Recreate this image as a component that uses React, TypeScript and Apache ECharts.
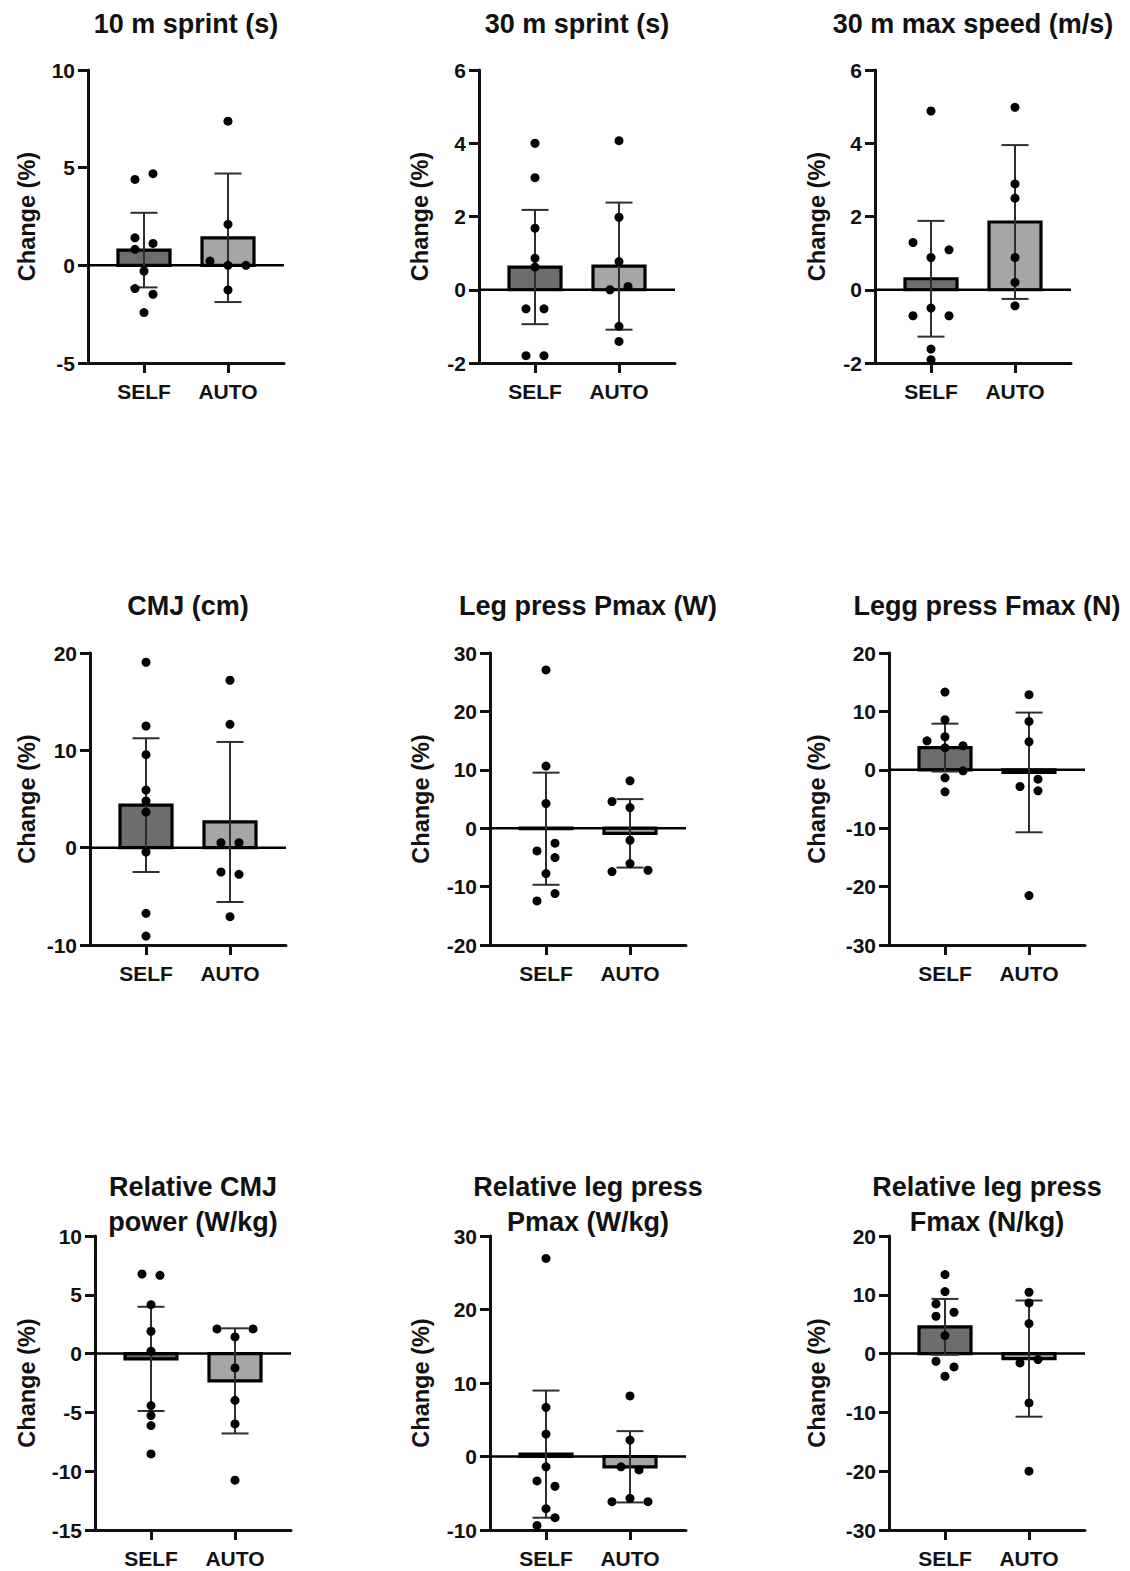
import React, { useEffect, useRef } from "react";
import * as echarts from "echarts";

// ---------- DATA ----------
const groups = ["SELF", "AUTO"];

const titles = [
  "10 m sprint (s)",
  "30 m sprint (s)",
  "30 m max speed (m/s)",
  "CMJ (cm)",
  "Leg press Pmax (W)",
  "Legg press Fmax (N)",
  "Relative CMJ\npower (W/kg)",
  "Relative leg press\nPmax (W/kg)",
  "Relative leg press\nFmax (N/kg)",
];

const yAxisName = "Change (%)";
const yMin = [-5, -2, -2, -10, -20, -30, -15, -10, -30];
const yMax = [10, 6, 6, 20, 30, 20, 10, 30, 20];
const yStep = [5, 2, 2, 10, 10, 10, 5, 10, 10];

const selfMean = [0.78, 0.62, 0.3, 4.37, -0.09, 3.8, -0.45, 0.32, 4.55];
const selfSD = [1.91, 1.56, 1.58, 6.87, 9.6, 4.1, 4.43, 8.65, 4.75];
const autoMean = [1.41, 0.645, 1.85, 2.64, -0.88, -0.45, -2.32, -1.4, -0.85];
const autoSD = [3.29, 1.735, 2.1, 8.22, 5.86, 10.25, 4.47, 4.85, 9.88];

// individual changes
const selfDots = [
  [4.4, 4.69, 1.41, 1.12, 0.82, -0.29, -1.19, -1.48, -2.42],
  [4.0, 3.06, 1.68, 0.86, 0.62, -0.52, -0.52, -1.8, -1.8],
  [4.88, 1.29, 1.09, 0.88, -0.5, -0.71, -0.71, -1.62, -1.91],
  [19.05, 12.5, 9.55, 5.92, 4.8, 3.66, -0.45, -6.75, -9.08],
  [27.1, 10.63, 4.23, -2.57, -3.89, -5.03, -7.77, -11.2, -12.46],
  [13.31, 8.57, 4.97, 5.66, 3.77, 4.12, -0.17, -1.37, -3.77],
  [6.77, 6.66, 4.16, 1.9, 0.2, -4.42, -5.27, -6.12, -8.53],
  [26.95, 6.69, 3.05, -1.41, -3.32, -4.05, -7.1, -8.33, -9.38],
  [13.44, 10.54, 8.45, 7.03, 6.35, 3.06, -1.3, -2.27, -3.85],
];
// scatter slot (horizontal spreading of overlapping points)
const selfSlots = [
  [-1, 1, -1, 1, -1, 0, -1, 1, 0],
  [0, 0, 0, 0, 0, -1, 1, -1, 1],
  [0, -2, 2, 0, 0, -2, 2, 0, 0],
  [0, 0, 0, 0, 0, 0, 0, 0, 0],
  [0, 0, 0, 1, -1, 1, 0, 1, -1],
  [0, 0, -2, 0, 0, 2, 2, 0, 0],
  [-1, 1, 0, 0, 0, 0, 0, 0, 0],
  [0, 0, 0, 0, -1, 1, 0, 1, -1],
  [0, 0, -1, 1, -1, 0, -1, 1, 0],
];
const autoDots = [
  [7.38, 2.1, 0.22, 0.0, 0.0, -1.26],
  [4.07, 1.98, 0.77, 0.0, 0.09, -1.0, -1.41],
  [4.98, 2.89, 2.5, 0.88, 0.2, -0.44],
  [17.2, 12.67, 0.51, 0.51, -2.5, -2.74, -7.09],
  [8.11, 4.57, 3.54, -2.06, -6.06, -7.43, -7.2],
  [12.86, 8.29, 4.8, -2.86, -1.6, -3.6, -21.54],
  [2.1, 2.1, 1.42, -1.22, -3.97, -5.98, -10.76],
  [8.24, 2.23, -1.41, -1.82, -5.69, -6.14, -6.14],
  [10.43, 8.62, 5.1, -1.59, -1.02, -8.39, -20.0],
];
const autoSlots = [
  [0, 0, -2, 0, 2, 0],
  [0, 0, 0, -1, 1, 0, 0],
  [0, 0, 0, 0, 0, 0],
  [0, 0, -1, 1, -1, 1, 0],
  [0, -2, 0, 0, 0, -2, 2],
  [0, 0, 0, -1, 1, 1, 0],
  [-2, 2, 0, 0, 0, 0, 0],
  [0, 0, -1, 1, 0, -2, 2],
  [0, 0, 0, -1, 1, 0, 0],
];

// ---------- LAYOUT ----------
const gridLeft = [88, 479, 875, 90, 490, 889, 95, 490, 889];
const gridTop = [70, 70, 70, 653, 653, 653, 1236, 1236, 1236];
const gridHeight = [293, 293, 293, 292, 292, 292, 294, 294, 294];
const gridWidth = 196;
const nameOffset = [61, 59, 58, 63, 69, 72, 68, 69, 72];
const titleTop = [6.5, 6.5, 6.5, 588.5, 588.5, 588.5, 1169.5, 1169.5, 1169.5];

const X_MIN = -2 / 3;
const X_MAX = 5 / 3;
const FONT = "'Liberation Sans', Arial, Helvetica, sans-serif";
const barColors = ["#6d6d6d", "#a6a6a8"];
const SLOT_PX = 9;

function buildOption() {
  const grid: any[] = [];
  const xAxis: any[] = [];
  const yAxis: any[] = [];
  const title: any[] = [];
  const series: any[] = [];

  for (let i = 0; i < 9; i++) {
    grid.push({
      left: gridLeft[i],
      top: gridTop[i],
      width: gridWidth,
      height: gridHeight[i],
      containLabel: false,
    });
    title.push({
      text: titles[i],
      left: gridLeft[i] + gridWidth / 2,
      top: titleTop[i],
      textAlign: "center",
      padding: 0,
      textStyle: {
        fontFamily: FONT,
        fontWeight: "bold",
        fontSize: 27,
        lineHeight: 35,
        color: "#111",
      },
    });
    xAxis.push({
      type: "value",
      gridIndex: i,
      min: X_MIN,
      max: X_MAX,
      axisLine: { show: true, onZero: false, lineStyle: { color: "#111", width: 3 } },
      axisTick: {
        show: true,
        customValues: [0, 1],
        length: 10,
        lineStyle: { color: "#111", width: 3 },
      },
      axisLabel: {
        show: true,
        customValues: [0, 1],
        formatter: (v: number) => groups[Math.round(v)] ?? "",
        margin: 18,
        fontFamily: FONT,
        fontWeight: "bold",
        fontSize: 21,
        color: "#111",
      },
      splitLine: { show: false },
    });
    yAxis.push({
      type: "value",
      gridIndex: i,
      min: yMin[i],
      max: yMax[i],
      interval: yStep[i],
      name: yAxisName,
      nameLocation: "middle",
      nameGap: nameOffset[i] - 12,
      nameTextStyle: {
        fontFamily: FONT,
        fontWeight: "bold",
        fontSize: 23.5,
        color: "#111",
      },
      axisLine: { show: true, onZero: false, lineStyle: { color: "#111", width: 3 } },
      axisTick: { show: true, length: 10, lineStyle: { color: "#111", width: 3 } },
      axisLabel: {
        margin: 13,
        fontFamily: FONT,
        fontWeight: "bold",
        fontSize: 21,
        color: "#111",
      },
      splitLine: { show: false },
    });

    const means = [selfMean[i], autoMean[i]];
    const sds = [selfSD[i], autoSD[i]];

    // bars
    series.push({
      type: "custom",
      xAxisIndex: i,
      yAxisIndex: i,
      silent: true,
      data: means.map((m, g) => [g, m]),
      renderItem: (params: any, api: any) => {
        const g = api.value(0);
        const m = api.value(1);
        const p0 = api.coord([g, 0]);
        const p1 = api.coord([g, m]);
        const w = 52;
        return {
          type: "rect",
          shape: {
            x: p0[0] - w / 2,
            y: Math.min(p0[1], p1[1]),
            width: w,
            height: Math.abs(p1[1] - p0[1]),
          },
          style: { fill: barColors[g], stroke: "#000", lineWidth: 3.2 },
        };
      },
    });
    // zero line
    series.push({
      type: "custom",
      xAxisIndex: i,
      yAxisIndex: i,
      silent: true,
      data: [[X_MIN, 0, X_MAX]],
      encode: { x: [0, 2], y: 1 },
      renderItem: (params: any, api: any) => {
        const a = api.coord([api.value(0), api.value(1)]);
        const b = api.coord([api.value(2), api.value(1)]);
        return {
          type: "line",
          shape: { x1: a[0], y1: a[1], x2: b[0], y2: b[1] },
          style: { stroke: "#000", lineWidth: 2.5 },
        };
      },
    });
    // error bars (mean ± SD)
    series.push({
      type: "custom",
      xAxisIndex: i,
      yAxisIndex: i,
      silent: true,
      data: means.map((m, g) => [g, m - sds[g], m + sds[g]]),
      encode: { x: 0, y: [1, 2] },
      renderItem: (params: any, api: any) => {
        const g = api.value(0);
        const lo = api.coord([g, api.value(1)]);
        const hi = api.coord([g, api.value(2)]);
        const hw = 13.5;
        const st = { stroke: "#2e2e2e", lineWidth: 2 };
        return {
          type: "group",
          children: [
            { type: "line", shape: { x1: lo[0], y1: lo[1], x2: hi[0], y2: hi[1] }, style: st },
            { type: "line", shape: { x1: lo[0] - hw, y1: lo[1], x2: lo[0] + hw, y2: lo[1] }, style: st },
            { type: "line", shape: { x1: hi[0] - hw, y1: hi[1], x2: hi[0] + hw, y2: hi[1] }, style: st },
          ],
        };
      },
    });
    // individual points
    const pts: number[][] = [];
    selfDots[i].forEach((v, k) => pts.push([0, v, selfSlots[i][k]]));
    autoDots[i].forEach((v, k) => pts.push([1, v, autoSlots[i][k]]));
    series.push({
      type: "custom",
      xAxisIndex: i,
      yAxisIndex: i,
      silent: true,
      data: pts,
      encode: { x: 0, y: 1 },
      renderItem: (params: any, api: any) => {
        const p = api.coord([api.value(0), api.value(1)]);
        return {
          type: "circle",
          shape: { cx: p[0] + api.value(2) * SLOT_PX, cy: p[1], r: 4.5 },
          style: { fill: "#000" },
        };
      },
    });
  }

  return {
    animation: false,
    backgroundColor: "#fff",
    title,
    grid,
    xAxis,
    yAxis,
    series,
  };
}

export default function App() {
  const ref = useRef<HTMLDivElement>(null);
  useEffect(() => {
    if (!ref.current) return;
    const chart = echarts.init(ref.current, null, { renderer: "svg" });
    chart.setOption(buildOption());
    return () => chart.dispose();
  }, []);
  return (
    <div
      ref={ref}
      style={{ position: "absolute", left: 0, top: 0, width: 1130, height: 1571, background: "#fff" }}
    />
  );
}
